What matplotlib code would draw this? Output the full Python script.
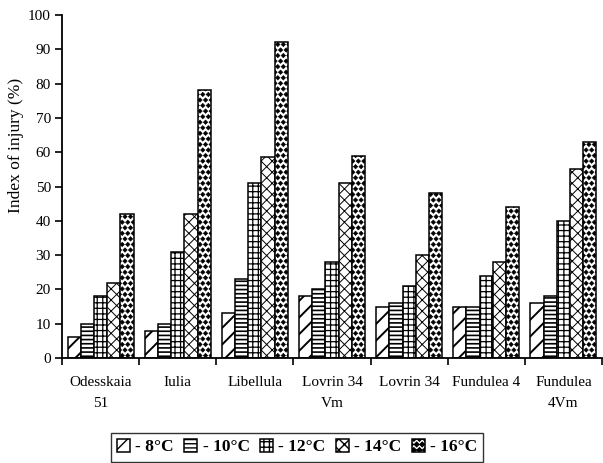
import matplotlib
matplotlib.use("Agg")
import matplotlib.pyplot as plt
import matplotlib.hatch as mhatch
from matplotlib.path import Path
from matplotlib.patches import Patch
import numpy as np

# data
varieties = ["Odesskaia\n51", "Iulia", "Libellula", "Lovrin 34\nVm",
             "Lovrin 34", "Fundulea 4", "Fundulea\n4Vm"]
temps = ["8°C", "10°C", "12°C", "14°C", "16°C"]
t8 = [6, 8, 13, 18, 15, 15, 16]
t10 = [10, 10, 23, 20, 16, 15, 18]
t12 = [18, 31, 51, 28, 21, 24, 40]
t14 = [22, 42, 58.5, 51, 30, 28, 55]
t16 = [42, 78, 92, 59, 48, 44, 63]
yticks = np.arange(0, 101, 10)


# filled diamonds instead of stars for the '*' hatch
class Diamonds(mhatch.Shapes):
    size = 0.4
    filled = True

    def __init__(self, hatch, density):
        self.num_rows = hatch.count("*") * density
        path = Path.unit_regular_polygon(4)
        self.shape_vertices = path.vertices
        self.shape_codes = path.codes
        super().__init__(hatch, density)


mhatch._hatch_types = [Diamonds if t is mhatch.Stars else t
                       for t in mhatch._hatch_types]

plt.rcParams["font.family"] = "Liberation Serif"

series = [t8, t10, t12, t14, t16]
hatches = ["//", "----", "+++", "xxx", "***"]
hatch_lw = [1.4, 1.2, 0.9, 0.7, 0.4]


def set_hlw(patch, lw):
    if hasattr(patch, "set_hatch_linewidth"):
        patch.set_hatch_linewidth(lw)


fig = plt.figure(figsize=(6.03, 4.63), dpi=100)
ax = fig.add_axes([62 / 603, 1 - 358 / 463, 540 / 603, 343 / 463])

x = np.arange(len(varieties))
w = 0.171
for i, vals in enumerate(series):
    with plt.rc_context({"hatch.linewidth": hatch_lw[i]}):
        bars = ax.bar(x + (i - 2) * w, vals, w, color="white", edgecolor="black",
                      hatch=hatches[i], linewidth=1.1)
    for b in bars:
        set_hlw(b, hatch_lw[i])

ax.set_xlim(-0.5, len(varieties) - 0.5)
ax.set_ylim(0, 100)
ax.set_yticks(yticks)
ax.tick_params(axis="y", labelsize=11, direction="out", length=5, width=1.2, pad=3)
ax.set_xticks(x)
ax.set_xticklabels(varieties, fontsize=11, linespacing=1.75)
ax.tick_params(axis="x", length=0, pad=13)
ax.set_xticks(np.arange(-0.5, len(varieties)), minor=True)
ax.tick_params(axis="x", which="minor", direction="out", length=5, width=1.2)
for s in ["top", "right"]:
    ax.spines[s].set_visible(False)
ax.spines["left"].set_linewidth(1.3)
ax.spines["bottom"].set_linewidth(1.3)
ax.set_ylabel("Index of injury (%)", fontsize=12.5)
ax.yaxis.set_label_coords(-0.07, 0.62)

handles = []
for h, lw in zip(hatches, hatch_lw):
    with plt.rc_context({"hatch.linewidth": lw}):
        p = Patch(facecolor="white", edgecolor="black", hatch=h, linewidth=1.1)
    set_hlw(p, lw)
    handles.append(p)
labels = ["- " + t for t in temps]
leg = fig.legend(handles, labels, loc="upper left",
                 bbox_to_anchor=(111 / 603, 1 - 433 / 463), ncol=5,
                 prop={"weight": "bold", "size": 12.5}, frameon=True,
                 fancybox=False, edgecolor="black", handlelength=0.75,
                 handleheight=0.75, handletextpad=0.3, columnspacing=0.6,
                 borderpad=0.35, borderaxespad=0)
leg.get_frame().set_linewidth(1.0)

fig.savefig("out.png", dpi=100)
